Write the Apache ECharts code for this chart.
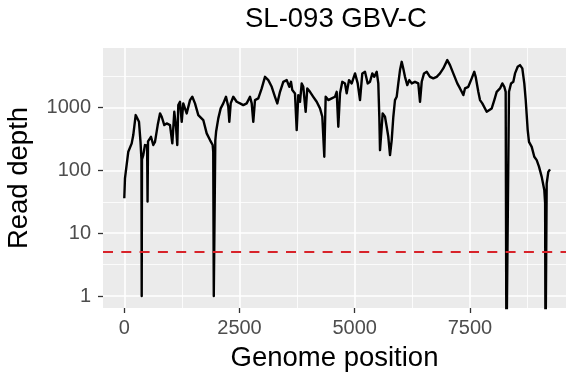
<!DOCTYPE html>
<html>
<head>
<meta charset="utf-8">
<title>SL-093 GBV-C read depth</title>
<script src="https://cdn.jsdelivr.net/npm/echarts@6/dist/echarts.min.js"></script>
<style>
  html, body { margin: 0; padding: 0; background: #ffffff; }
  #chart { width: 567px; height: 380px; }
</style>
</head>
<body>
<div id="chart"></div>
<script>
// Genome coverage profile: position along the genome and read depth there.
// Positions with zero coverage are stored as ZERO_DEPTH, a floor below the
// log axis minimum, so those drops run off the bottom of the panel.
const ZERO_DEPTH = 0.1;

const positions = [
  0, 15, 87, 161, 195, 247, 269, 319, 352, 372, 378, 384, 412, 449, 495, 505, 515,
  579, 629, 666, 725, 775, 812, 868, 920, 992, 1042, 1085, 1122, 1150, 1172, 1209,
  1246, 1280, 1317, 1354, 1426, 1476, 1534, 1606, 1714, 1788, 1860, 1918, 1930, 1942,
  1962, 1975, 1992, 2040, 2092, 2148, 2207, 2257, 2279, 2309, 2365, 2439, 2511, 2582,
  2656, 2728, 2765, 2799, 2836, 2908, 2982, 3053, 3125, 3199, 3270, 3320, 3379, 3450,
  3524, 3581, 3617, 3646, 3704, 3741, 3776, 3813, 3850, 3884, 3936, 3971, 4030, 4101,
  4175, 4247, 4297, 4340, 4370, 4427, 4501, 4572, 4609, 4644, 4681, 4731, 4789, 4826,
  4876, 4935, 5007, 5065, 5115, 5165, 5223, 5282, 5332, 5382, 5425, 5477, 5512, 5534,
  5549, 5564, 5607, 5657, 5694, 5729, 5766, 5803, 5838, 5874, 5911, 5946, 5983, 6020,
  6054, 6091, 6141, 6185, 6237, 6308, 6380, 6417, 6454, 6504, 6562, 6634, 6705, 6779,
  6851, 6922, 7009, 7068, 7139, 7226, 7285, 7322, 7357, 7393, 7465, 7539, 7595, 7625,
  7682, 7719, 7769, 7812, 7864, 7899, 7973, 8029, 8081, 8153, 8203, 8246, 8276, 8292,
  8335, 8348, 8392, 8442, 8479, 8537, 8587, 8637, 8680, 8711, 8754, 8782, 8841, 8897,
  8949, 8999, 9058, 9114, 9132, 9140, 9152, 9166, 9201, 9238
];

const depths = [
  36, 75, 199, 270, 366, 763, 790, 596, 286, 150, 1, 150, 176, 254, 250, 32, 290,
  344, 254, 286, 528, 811, 717, 528, 562, 528, 270, 860, 497, 254, 1100, 1242,
  596, 1171, 975, 811, 1321, 1492, 1171, 763, 635, 390, 305, 254, 200, 1,
  1, 300, 413, 676, 975, 1171, 1492, 1033, 596, 1171, 1492, 1242, 1171, 1100,
  1171, 1492, 1171, 596, 1321, 1406, 2028, 3105, 2750, 2152, 1492, 1171, 1791, 2585,
  2750, 2152, 2585, 1906, 1690, 440, 1588, 1242, 2437, 2152, 860, 2028, 1791, 1492,
  1242, 975, 717, 165, 1492, 1321, 1406, 1492, 1791, 497, 1690, 2585, 2437, 1690,
  2750, 2437, 3516, 2437, 1321, 3516, 3733, 2437, 2585, 3516, 3105, 3733, 2437, 717,
  211, 199, 811, 717, 497, 344, 176, 305, 717, 1321, 1492, 2437, 3970, 5383,
  4224, 3105, 2290, 2750, 2437, 2585, 2437, 1242, 2585, 3516, 3733, 3105, 2927, 3105,
  3516, 4224, 5727, 4767, 3516, 2437, 2028, 1791, 1588, 2028, 2152, 2927, 3733, 3105,
  1791, 1321, 1171, 1242, 860, 811, 975, 1321, 1791, 2028, 2437, 2152, 1791, ZERO_DEPTH,
  ZERO_DEPTH, 1791, 2437, 2585, 3516, 4478, 4767, 4224, 2437, 1321, 440, 286, 238, 165,
  146, 115, 79, 49, 30, ZERO_DEPTH, ZERO_DEPTH, 62, 95, 104
];

// Axis breaks and guide lines
const xTicks = [0, 2500, 5000, 7500];
const xMinorTicks = [1250, 3750, 6250, 8750];
const yTicks = [1, 10, 100, 1000];
const yMinorTicks = [3.162, 31.62, 316.2, 3162];
const depthThreshold = 5;

const X_MIN = -462, X_MAX = 9585;
const Y_MIN = 0.644, Y_MAX = 8933;

const FONT = "'Liberation Sans', Arial, Helvetica, sans-serif";

const coverage = positions.map((p, i) => [p, depths[i]]);

// Panel grid lines (white): major and minor
const gridLines = [];
xTicks.forEach(v => gridLines.push({ xAxis: v, lineStyle: { width: 1.6 } }));
xMinorTicks.forEach(v => gridLines.push({ xAxis: v, lineStyle: { width: 0.8 } }));
yTicks.forEach(v => gridLines.push({ yAxis: v, lineStyle: { width: 1.6 } }));
yMinorTicks.forEach(v => gridLines.push({ yAxis: v, lineStyle: { width: 0.8 } }));

const plainNumber = v => String(Math.round(v));

const chart = echarts.init(document.getElementById('chart'), null, { renderer: 'canvas' });

chart.setOption({
  animation: false,
  backgroundColor: '#ffffff',
  title: {
    text: 'SL-093 GBV-C',
    left: 240,
    top: 0,
    textStyle: { fontFamily: FONT, fontSize: 27.5, fontWeight: 'normal', color: '#000000' }
  },
  grid: {
    left: 103, right: 1, top: 48, bottom: 72,
    show: true,
    backgroundColor: '#EBEBEB',
    borderWidth: 0,
    containLabel: false,
    outerBoundsMode: 'none'
  },
  xAxis: {
    type: 'value',
    min: X_MIN,
    max: X_MAX,
    name: 'Genome position',
    nameLocation: 'middle',
    nameGap: 36,
    nameTextStyle: { fontFamily: FONT, fontSize: 27.5, color: '#000000' },
    axisLine: { show: false, onZero: false },
    splitLine: { show: false },
    axisTick: { show: true, length: 5, customValues: xTicks, lineStyle: { color: '#333333', width: 1.3 } },
    axisLabel: { customValues: xTicks, formatter: plainNumber, color: '#4D4D4D', fontSize: 20, fontFamily: FONT, margin: 10 }
  },
  yAxis: {
    type: 'log',
    logBase: 10,
    min: Y_MIN,
    max: Y_MAX,
    name: 'Read depth',
    nameLocation: 'middle',
    nameGap: 70,
    nameRotate: 90,
    nameTextStyle: { fontFamily: FONT, fontSize: 27.5, color: '#000000' },
    axisLine: { show: false, onZero: false },
    splitLine: { show: false },
    axisTick: { show: true, length: 5, customValues: yTicks, lineStyle: { color: '#333333', width: 1.3 } },
    axisLabel: { customValues: yTicks, formatter: plainNumber, color: '#4D4D4D', fontSize: 20, fontFamily: FONT, margin: 12 }
  },
  series: [
    {
      name: 'panel grid',
      type: 'line',
      data: [],
      silent: true,
      z: 1,
      markLine: {
        silent: true,
        z: 1,
        symbol: ['none', 'none'],
        label: { show: false },
        lineStyle: { color: '#FFFFFF', type: 'solid', width: 1.6 },
        emphasis: { disabled: true },
        data: gridLines
      }
    },
    {
      name: 'Read depth',
      type: 'line',
      data: coverage,
      showSymbol: false,
      symbol: 'none',
      clip: true,
      z: 3,
      lineStyle: { color: '#000000', width: 2.4, join: 'round' },
      markLine: {
        silent: true,
        z: 4,
        symbol: ['none', 'none'],
        label: { show: false },
        emphasis: { disabled: true },
        lineStyle: { color: '#D8232A', type: [10, 8.3], width: 2 },
        data: [{ yAxis: depthThreshold }]
      }
    }
  ]
});
</script>
</body>
</html>
